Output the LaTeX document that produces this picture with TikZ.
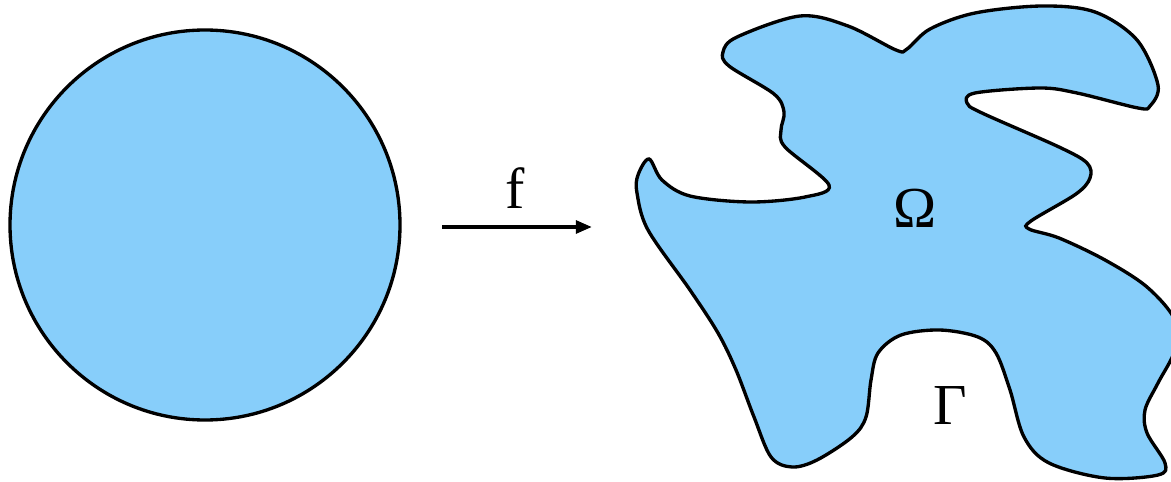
\documentclass[tikz,border=0pt]{standalone}
\usepackage{fontspec}
\setmainfont{Liberation Serif}
\usepackage{xcolor}
\usetikzlibrary{arrows.meta}
\definecolor{domainblue}{RGB}{135,206,250}

\begin{document}
\begin{tikzpicture}[x=0.1mm,y=-0.1mm,
        region/.style={draw=black,line width=0.95pt,fill=domainblue},
        maparrow/.style={line width=1.1pt,-{Triangle[length=4.6pt,width=3.6pt]}},
        lbl/.style={font=\fontsize{16.5}{18}\selectfont,inner sep=0pt}]
        % Frame of the picture (pixel units, y downwards)
        \useasboundingbox (0,0) rectangle (1171,482);
        \clip (0,0) rectangle (1171,482);

        % Unit disk
        \node[region,circle,minimum size=39mm,inner sep=0pt] (disk) at (205,225) {};

        % The map f
        \coordinate (fstart) at (442,227);
        \coordinate (fend) at (592,227);
        \draw[maparrow] (fstart) -- (fend);
        \node[lbl] (flabel) at (515,188) {f};

        % Image domain Omega with boundary Gamma
        \draw[region] plot[smooth cycle,tension=0.55] coordinates {
            (649,159) (662,180) (690,196) (750,202) (805,197) (829,185)
            (785,147) (781,130) (784,112) (774,94) (729,66) (723,52)
            (737,37) (800,16) (848,26) (896,50) (907,49) (930,29)
            (975,13) (1042,6) (1095,12) (1137,40) (1158,85) (1150,106)
            (1138,108) (1077,93) (1040,88) (975,93) (967,103) (982,113)
            (1059,147) (1087,163) (1090,178) (1076,194) (1031,221) (1029,229)
            (1059,238) (1105,260) (1147,287) (1175,320) (1175,350) (1158,383)
            (1145,410) (1147,433) (1165,463) (1158,475) (1105,478) (1049,463)
            (1024,437) (1010,390) (996,353) (978,337) (940,330) (901,335)
            (878,353) (871,380) (866,417) (852,437) (817,460) (792,467)
            (771,457) (754,417) (736,370) (718,333) (690,290) (648,230)
            (637,193) (638,175)};

        % Labels
        \node[lbl] (omega) at (915,208) {Ω};
        \node[lbl] (gamma) at (950,406) {Γ};
\end{tikzpicture}
\end{document}
